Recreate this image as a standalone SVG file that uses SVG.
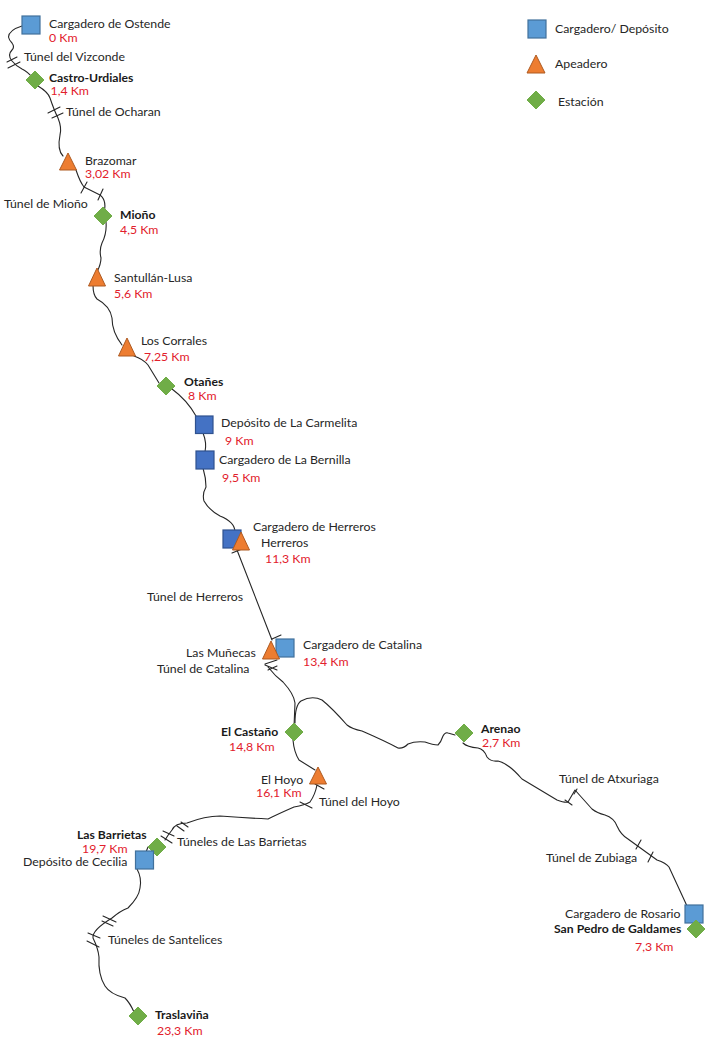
<svg xmlns="http://www.w3.org/2000/svg" width="720" height="1040" viewBox="0 0 720 1040">
<defs><style>
text{font-family:"Lato","Carlito","Liberation Sans",sans-serif;font-size:12.3px;fill:#262626;transform:translateY(1px)}
.b{font-weight:700;fill:#1a1a1a;font-size:12.2px}
.r{fill:#e2202c}
.l{fill:none;stroke:#262626;stroke-width:1.1;stroke-linejoin:round;stroke-linecap:round}
.s{fill:#5b9bd5;stroke:#41719c;stroke-width:1.2}
.d{fill:#4472c4;stroke:#2f528f;stroke-width:1.2}
.t{fill:#ed7d31;stroke:#ae5a21;stroke-width:1}
.e{fill:#70ad47;stroke:#70ad47;stroke-width:1}
</style></defs>
<rect width="720" height="1040" fill="#fff"/>
<g id="connectors">
<path class="l" d="M22 26Q9 30 8.500 37Q9 40 12 43Q15 47 12 50Q7 55 12 61Q16 66 22 69Q27 71 35 80"/>
<path class="l" d="M38 86Q48 92 50 98Q54 110 58 118Q62 128 60 135Q57 150 63 156"/>
<path class="l" d="M76 170Q80 182 84 187L100 195Q108 201 103 216"/>
<path class="l" d="M106 222Q107 233 102 243Q99 250 101 258Q101 264 97 272"/>
<path class="l" d="M93 285Q93 295 97 299Q110 306 112 318Q112 332 122 345"/>
<path class="l" d="M134 356Q143 359 148 365L159 383"/>
<path class="l" d="M172 389Q187 400 196 416"/>
<path class="l" d="M203 433Q207 443 205 452"/>
<path class="l" d="M203 468Q206 478 206 487Q202 494 204 501Q209 510 220 516Q235 522 235 532"/>
<path class="l" d="M237 550L272 640"/>
<path class="l" d="M268 667Q275 676 283 682Q294 694 295 703L294 727"/>
<path class="l" d="M295 723Q295 705 301 701Q312 695 322 700Q332 708 347 725Q352 729 362 731Q385 741 398 748Q403 749 408 744Q415 741 425 742Q433 745 438 745Q441 742 443 736Q445 732 448 733L455 735"/>
<path class="l" d="M463 743Q467 747 478 748Q484 749 487 757Q491 762 498 761Q508 763 522 779L557 800Q565 803 568 802L575 790L592 809Q597 813 605 815Q614 818 617 826Q621 835 628 839L657 860Q666 863 669 867L687 906"/>
<path class="l" d="M293 740Q294 752 299 760L315 770"/>
<path class="l" d="M317 785Q315 795 310 802Q305 805 294 807Q278 814 268 819Q245 818 220 816Q205 816 187 823Q175 823 172 830Q168 835 165 840"/>
<path class="l" d="M148 847L146 852"/>
<path class="l" d="M137 869Q142 878 140 888Q139 897 128 908Q120 911 112 918Q92 930 93 938Q98 948 99 957Q98 975 105 986Q110 994 125 998Q130 1003 134 1012"/>
<path class="l" d="M7 62L17 57M8 68L20 62M48 113L60 107M52 118L63 113M87 182L81 193M103 189L98 200M232 553L242 549M272 639L281 635M265 664L277 660M268 670L277 666M265 665L277 670M315 784L324 789M300 802L312 808M177 826L184 831M181 822L188 827M163 831L174 836M161 836L172 843M103 916L116 922M102 921L113 926M88 933L100 938M87 941L99 947M565 800L572 805M574 794L577 789M641 840L636 849M653 852L648 862"/>
</g>
<g id="legend-cargadero"><rect class="s" x="528" y="20" width="18" height="18"/><text x="555" y="32">Cargadero/ Depósito</text></g>
<g id="legend-apeadero"><path class="t" d="M536 55L545 73H527Z"/><text x="555" y="67">Apeadero</text></g>
<g id="legend-estacion"><path class="e" d="M536 91L545 100L536 109L527 100Z"/><text x="558" y="105">Estación</text></g>
<g id="ostende"><rect class="s" x="22" y="16" width="18" height="18"/><text x="49" y="27">Cargadero de Ostende</text><text class="r" x="49" y="41">0 Km</text></g>
<g id="vizconde"><text x="24" y="60">Túnel del Vizconde</text></g>
<g id="castro"><path class="e" d="M35 71L44 80L35 89L26 80Z"/><text class="b" x="49" y="81">Castro-Urdiales</text><text class="r" x="50.500" y="94">1,4 Km</text></g>
<g id="ocharan"><text x="66" y="115">Túnel de Ocharan</text></g>
<g id="brazomar"><path class="t" d="M68 153L76.500 170H59.500Z"/><text x="85" y="164">Brazomar</text><text class="r" x="85" y="177">3,02 Km</text></g>
<g id="tunel-miono"><text x="4" y="207">Túnel de Mioño</text></g>
<g id="miono"><path class="e" d="M103 207L112 216L103 225L94 216Z"/><text class="b" x="120" y="218">Mioño</text><text class="r" x="120" y="233">4,5 Km</text></g>
<g id="santullan"><path class="t" d="M97 268L105.500 286H88.500Z"/><text x="114" y="281">Santullán-Lusa</text><text class="r" x="114" y="297">5,6 Km</text></g>
<g id="corrales"><path class="t" d="M127 338L135.500 356H118.500Z"/><text x="141" y="344">Los Corrales</text><text class="r" x="144" y="360">7,25 Km</text></g>
<g id="otanes"><path class="e" d="M166 377L175 386L166 395L157 386Z"/><text class="b" x="184" y="385">Otañes</text><text class="r" x="188" y="399">8 Km</text></g>
<g id="carmelita"><rect class="d" x="195.500" y="416" width="17.500" height="17.500"/><text x="221" y="426">Depósito de La Carmelita</text><text class="r" x="225" y="444">9 Km</text></g>
<g id="bernilla"><rect class="d" x="196" y="451" width="18" height="18"/><text x="219" y="463">Cargadero de La Bernilla</text><text class="r" x="222" y="481">9,5 Km</text></g>
<g id="herreros"><rect class="d" x="223" y="530" width="18" height="18"/><path class="t" d="M241 532L249.500 550H232.500Z"/><text x="253" y="530">Cargadero de Herreros</text><text x="261" y="546">Herreros</text><text class="r" x="265" y="562">11,3 Km</text></g>
<g id="tunel-herreros"><text x="147" y="600">Túnel de Herreros</text></g>
<g id="catalina"><rect class="s" x="276" y="639" width="18" height="18"/><path class="t" d="M271 641L279.500 659H262.500Z"/><text x="303" y="648">Cargadero de Catalina</text><text class="r" x="303" y="665">13,4 Km</text><text x="186" y="656">Las Muñecas</text><text x="157" y="672">Túnel de Catalina</text></g>
<g id="castano"><path class="e" d="M294 723L303 732L294 741L285 732Z"/><text class="b" x="221" y="735">El Castaño</text><text class="r" x="229" y="750">14,8 Km</text></g>
<g id="arenao"><path class="e" d="M464 724L473 733L464 742L455 733Z"/><text class="b" x="481" y="732">Arenao</text><text class="r" x="482" y="746">2,7 Km</text></g>
<g id="hoyo"><path class="t" d="M318 767L326.500 784H309.500Z"/><text x="261" y="783">El Hoyo</text><text class="r" x="256" y="796">16,1 Km</text><text x="319" y="805">Túnel del Hoyo</text></g>
<g id="atxuriaga"><text x="559" y="782">Túnel de Atxuriaga</text></g>
<g id="barrietas"><path class="e" d="M157 838L166 847L157 856L148 847Z"/><text class="b" x="77" y="838">Las Barrietas</text><text class="r" x="82" y="852">19,7 Km</text><text x="177" y="845">Túneles de Las Barrietas</text></g>
<g id="cecilia"><rect class="s" x="135.500" y="851" width="18" height="18"/><text x="23" y="865">Depósito de Cecilia</text></g>
<g id="santelices"><text x="108" y="943">Túneles de Santelices</text></g>
<g id="traslavina"><path class="e" d="M138 1007L147 1016L138 1025L129 1016Z"/><text class="b" x="155" y="1018">Traslaviña</text><text class="r" x="157" y="1034">23,3 Km</text></g>
<g id="zubiaga"><text x="546" y="861">Túnel de Zubiaga</text></g>
<g id="rosario"><rect class="s" x="685" y="905" width="18" height="18"/><text x="565" y="917">Cargadero de Rosario</text></g>
<g id="galdames"><path class="e" d="M696 920L705 929L696 938L687 929Z"/><text class="b" x="554" y="932">San Pedro de Galdames</text><text class="r" x="635" y="950">7,3 Km</text></g>
</svg>
